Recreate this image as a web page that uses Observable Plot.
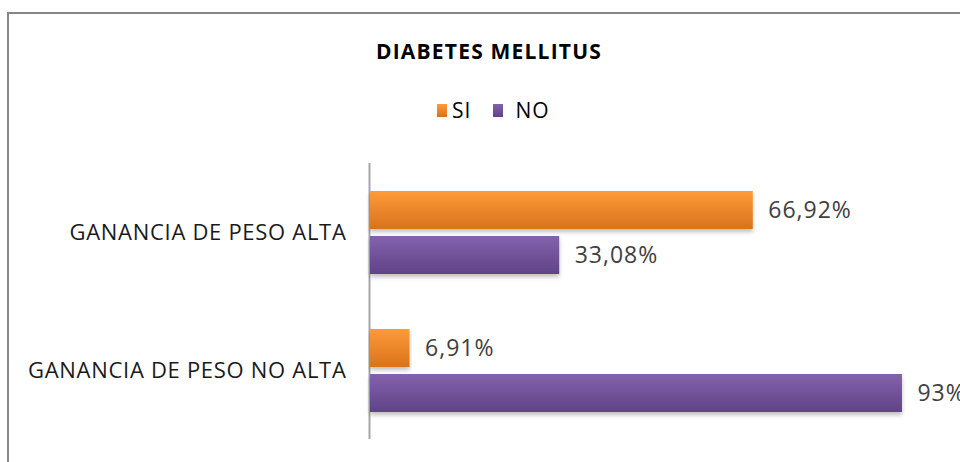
<!DOCTYPE html>
<html><head><meta charset="utf-8">
<script src="https://cdn.jsdelivr.net/npm/d3@7"></script>
<script src="https://cdn.jsdelivr.net/npm/@observablehq/plot@0.6"></script>
<style>
body{margin:0;background:#fff;font-family:"Open Sans",Lato,sans-serif;}
#wrap{position:relative;width:960px;height:462px;overflow:hidden;background:#fff;}
#frame{position:absolute;left:7px;top:12px;width:1000px;height:1000px;border:2px solid #878787;box-sizing:border-box;}
#title{position:absolute;left:0;width:978px;top:37px;text-align:center;font-weight:bold;font-size:21px;line-height:28px;color:#000;letter-spacing:1.2px;}
#legend{position:absolute;left:437px;top:96px;display:flex;align-items:center;font-size:21px;line-height:28px;color:#000;letter-spacing:1px;}
#legend .sw{display:inline-block;width:10px;height:13px;margin-right:5px;}
#chart{position:absolute;left:0;top:150px;}
</style>
</head><body>
<div id="wrap">
  <div id="frame"></div>
  <div id="title">DIABETES MELLITUS</div>
  <div id="legend"></div>
  <div id="chart"></div>
</div>
<script>
const categories = ["GANANCIA DE PESO ALTA", "GANANCIA DE PESO NO ALTA"];
const series = ["SI", "NO"];
const siValues = [66.92, 6.91];
const noValues = [33.08, 93];
const seriesColors = {SI: ["#fe9b38", "#d8721c"], NO: ["#8462ae", "#5f4386"]};

const data = categories.flatMap((c, i) => [
  {cat: c, serie: "SI", value: siValues[i]},
  {cat: c, serie: "NO", value: noValues[i]}
]);
const fmt = v => (Number.isInteger(v) ? String(v) : v.toFixed(2).replace(".", ",")) + "%";

// legend
const legend = document.getElementById("legend");
series.forEach((s, i) => {
  const item = document.createElement("span");
  item.style.display = "inline-flex";
  item.style.alignItems = "center";
  item.style.marginRight = i === 0 ? "22px" : "0";
  const sw = document.createElement("span");
  sw.className = "sw";
  sw.style.background = `linear-gradient(${seriesColors[s][0]}, ${seriesColors[s][1]})`;
  if (i === 1) sw.style.marginRight = "12px";
  item.appendChild(sw);
  item.appendChild(document.createTextNode(s));
  legend.appendChild(item);
});

const plot = Plot.plot({
  width: 960, height: 312,
  marginLeft: 370, marginRight: 18, marginTop: 13, marginBottom: 23,
  style: {fontFamily: "'Open Sans', Lato, sans-serif", fontSize: "22px", letterSpacing: "0.7px", background: "transparent", color: "#1a1a1a", overflow: "visible"},
  x: {domain: [0, 100], axis: null},
  y: {domain: series, paddingInner: 0.156, paddingOuter: 0.595, axis: null},
  fy: {domain: categories, padding: 0, axis: "left", label: null, tickSize: 0, tickPadding: 24},
  marks: [
    Plot.ruleX([0], {stroke: "#a6a6a6", strokeWidth: 2, dx: -1}),
    Plot.barX(data.filter(d => d.serie === "SI"), {x: "value", y: "serie", fy: "cat", fill: "url(#gradSI)"}),
    Plot.barX(data.filter(d => d.serie === "NO"), {x: "value", y: "serie", fy: "cat", fill: "url(#gradNO)"}),
    Plot.text(data, {x: "value", y: "serie", fy: "cat", text: d => fmt(d.value), textAnchor: "start", dx: 15, fill: "#404040", fontSize: 23})
  ]
});

const svg = d3.select(plot);
const defs = svg.insert("defs", ":first-child");
series.forEach(s => {
  const g = defs.append("linearGradient").attr("id", "grad" + s).attr("x1", 0).attr("y1", 0).attr("x2", 0).attr("y2", 1);
  g.append("stop").attr("offset", "0%").attr("stop-color", seriesColors[s][0]);
  g.append("stop").attr("offset", "100%").attr("stop-color", seriesColors[s][1]);
});
const f = defs.append("filter").attr("id", "shadow").attr("x", "-5%").attr("y", "-20%").attr("width", "110%").attr("height", "160%");
f.append("feDropShadow").attr("dx", 0).attr("dy", 3).attr("stdDeviation", 2).attr("flood-color", "#000").attr("flood-opacity", 0.25);
svg.selectAll("g[fill^='url']").attr("filter", "url(#shadow)");
svg.selectAll("g[aria-label='text']").style("letter-spacing", "1px");

document.getElementById("chart").appendChild(plot);
</script>
</body></html>
